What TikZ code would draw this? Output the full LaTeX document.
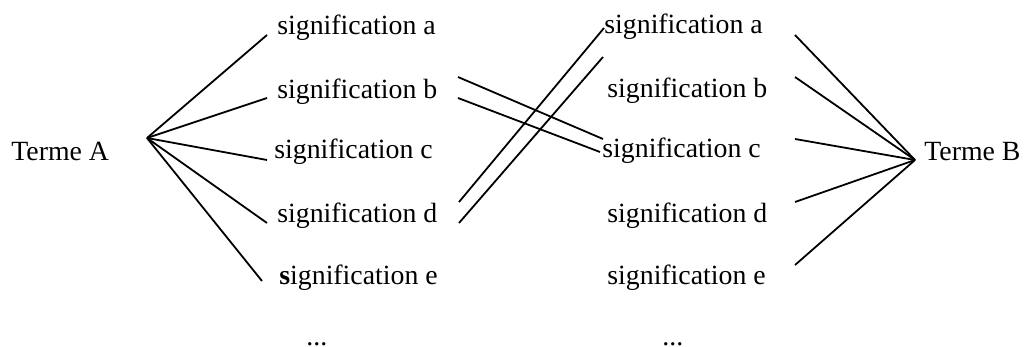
\documentclass[tikz,border=0pt]{standalone}
\usepackage{fontspec}
\setmainfont{Liberation Serif}
\begin{document}
\begin{tikzpicture}[x=0.5pt,y=-0.5pt,
  lbl/.style={inner sep=0pt,anchor=base west,font=\fontsize{13.9pt}{16pt}\selectfont},
  link/.style={line width=0.9pt}]
\useasboundingbox (0,0) rectangle (1027,347);
% terms
\node[lbl] (tA) at (11,161) {Terme A};
\node[lbl] (tB) at (924,161) {Terme B};
% left column
\node[lbl] (la) at (277,35) {signification a};
\node[lbl] (lb) at (277,99) {signification b};
\node[lbl] (lc) at (274,159) {signification c};
\node[lbl] (ld) at (277,222) {signification d};
\node[lbl] (le) at (279,285) {\textbf{s}ignification e};
\node[lbl] (ldots) at (306,345) {...};
% middle column
\node[lbl] (ma) at (604,34) {signification a};
\node[lbl] (mb) at (607,98) {signification b};
\node[lbl] (mc) at (602,158) {signification c};
\node[lbl] (md) at (607,222) {signification d};
\node[lbl] (me) at (607,285) {signification e};
\node[lbl] (mdots) at (662,345) {...};
% hubs and end points
\coordinate (hA) at (147,138);
\coordinate (hB) at (915,160);
\coordinate (la1) at (267,35);
\coordinate (lb1) at (267,98);
\coordinate (lc1) at (267,160);
\coordinate (ld1) at (267,223);
\coordinate (le1) at (262,281);
\coordinate (ra1) at (795,35);
\coordinate (rb1) at (795,77);
\coordinate (rc1) at (795,139);
\coordinate (rd1) at (795,202);
\coordinate (re1) at (795,265);
\coordinate (lbx1) at (458,77);
\coordinate (lbx2) at (458,98);
\coordinate (mcx1) at (603,139);
\coordinate (mcx2) at (600,152);
\coordinate (ldx1) at (459,202);
\coordinate (ldx2) at (459,223);
\coordinate (max1) at (604,28);
\coordinate (max2) at (603,57);
% connectors
\foreach \e in {la1,lb1,lc1,ld1,le1} \draw[link] (hA) -- (\e);
\foreach \e in {ra1,rb1,rc1,rd1,re1} \draw[link] (hB) -- (\e);
\draw[link] (lbx1) -- (mcx1);
\draw[link] (lbx2) -- (mcx2);
\draw[link] (ldx1) -- (max1);
\draw[link] (ldx2) -- (max2);
\end{tikzpicture}
\end{document}
